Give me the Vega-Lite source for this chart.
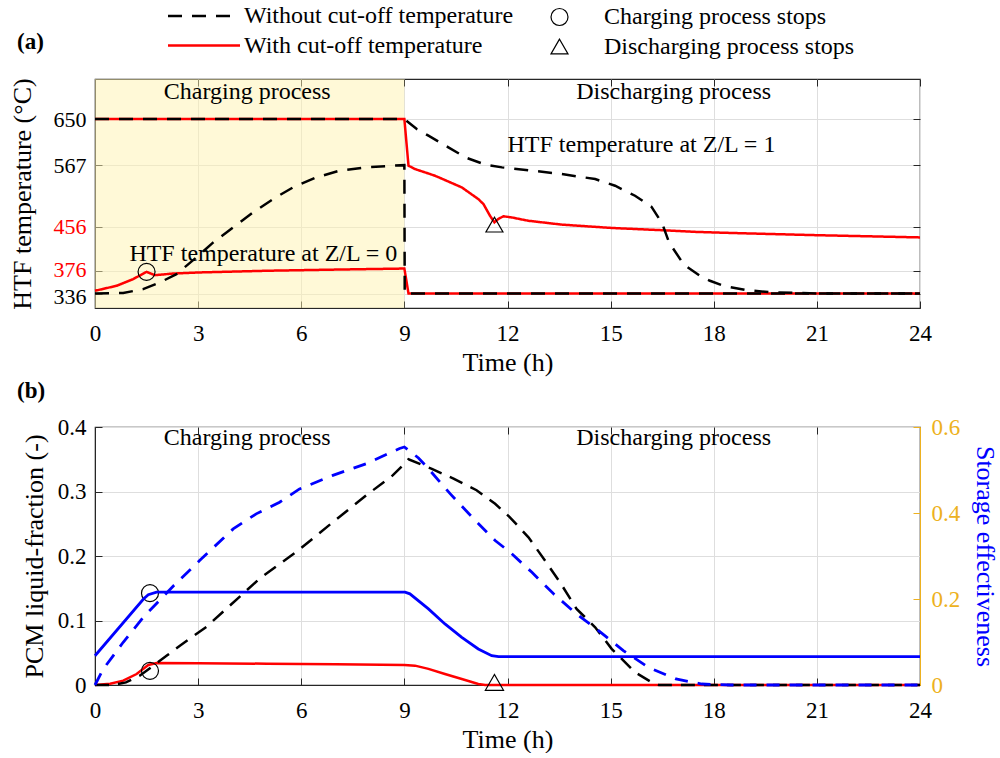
{
  "$schema": "https://vega.github.io/schema/vega-lite/v6.json",
  "padding": {"left": 8, "top": 3, "right": 0, "bottom": 0},
  "background": "white",
  "config": {
    "font": "Liberation Serif",
    "view": {"stroke": "#262626", "strokeWidth": 1.2},
    "axis": {
      "labelFont": "Liberation Serif", "labelFontSize": 23, "labelColor": "black",
      "titleFont": "Liberation Serif", "titleFontSize": 26, "titleFontWeight": "normal", "titleColor": "black",
      "gridColor": "#DEDEDE", "gridWidth": 1, "domainColor": "#262626", "tickColor": "#262626",
      "tickSize": -7, "labelOverlap": false, "labelFlush": false
    },
    "axisX": {"labelPadding": 21},
    "axisY": {"labelPadding": 16},
    "legend": {"labelFont": "Liberation Serif", "labelFontSize": 24, "labelColor": "black", "labelLimit": 0},
    "title": {"font": "Liberation Serif", "fontSize": 23, "fontWeight": "bold", "color": "black"},
    "concat": {"spacing": 3}
  },
  "resolve": {
    "scale": {"x": "independent", "y": "independent", "color": "independent", "strokeDash": "independent", "shape": "independent"},
    "legend": {"color": "independent", "strokeDash": "independent", "shape": "independent"}
  },
  "datasets": {
    "htf": [
      {"t": 0, "T": 650, "line": "w0", "case": "With cut-off temperature"},
      {"t": 9, "T": 650, "line": "w0", "case": "With cut-off temperature"},
      {"t": 9.12, "T": 566, "line": "w0", "case": "With cut-off temperature"},
      {"t": 9.31, "T": 560, "line": "w0", "case": "With cut-off temperature"},
      {"t": 9.89, "T": 548, "line": "w0", "case": "With cut-off temperature"},
      {"t": 10.67, "T": 527, "line": "w0", "case": "With cut-off temperature"},
      {"t": 11.15, "T": 506, "line": "w0", "case": "With cut-off temperature"},
      {"t": 11.3, "T": 497, "line": "w0", "case": "With cut-off temperature"},
      {"t": 11.49, "T": 476, "line": "w0", "case": "With cut-off temperature"},
      {"t": 11.62, "T": 464, "line": "w0", "case": "With cut-off temperature"},
      {"t": 11.73, "T": 470, "line": "w0", "case": "With cut-off temperature"},
      {"t": 11.88, "T": 475, "line": "w0", "case": "With cut-off temperature"},
      {"t": 12.12, "T": 473, "line": "w0", "case": "With cut-off temperature"},
      {"t": 12.6, "T": 467, "line": "w0", "case": "With cut-off temperature"},
      {"t": 13.58, "T": 460, "line": "w0", "case": "With cut-off temperature"},
      {"t": 15.03, "T": 454, "line": "w0", "case": "With cut-off temperature"},
      {"t": 16.48, "T": 450, "line": "w0", "case": "With cut-off temperature"},
      {"t": 17.45, "T": 447, "line": "w0", "case": "With cut-off temperature"},
      {"t": 18.5, "T": 445, "line": "w0", "case": "With cut-off temperature"},
      {"t": 19.73, "T": 443, "line": "w0", "case": "With cut-off temperature"},
      {"t": 21, "T": 441, "line": "w0", "case": "With cut-off temperature"},
      {"t": 22.5, "T": 439, "line": "w0", "case": "With cut-off temperature"},
      {"t": 24, "T": 437, "line": "w0", "case": "With cut-off temperature"},
      {"t": 0, "T": 341, "line": "w1", "case": "With cut-off temperature"},
      {"t": 0.63, "T": 350, "line": "w1", "case": "With cut-off temperature"},
      {"t": 1.11, "T": 362, "line": "w1", "case": "With cut-off temperature"},
      {"t": 1.5, "T": 375, "line": "w1", "case": "With cut-off temperature"},
      {"t": 1.74, "T": 369, "line": "w1", "case": "With cut-off temperature"},
      {"t": 2.27, "T": 372, "line": "w1", "case": "With cut-off temperature"},
      {"t": 3.05, "T": 374, "line": "w1", "case": "With cut-off temperature"},
      {"t": 4.98, "T": 377, "line": "w1", "case": "With cut-off temperature"},
      {"t": 6.92, "T": 379, "line": "w1", "case": "With cut-off temperature"},
      {"t": 9, "T": 381, "line": "w1", "case": "With cut-off temperature"},
      {"t": 9.12, "T": 336, "line": "w1", "case": "With cut-off temperature"},
      {"t": 24, "T": 336, "line": "w1", "case": "With cut-off temperature"},
      {"t": 0, "T": 650, "line": "o0", "case": "Without cut-off temperature"},
      {"t": 9, "T": 650, "line": "o0", "case": "Without cut-off temperature"},
      {"t": 9.36, "T": 632, "line": "o0", "case": "Without cut-off temperature"},
      {"t": 9.7, "T": 620, "line": "o0", "case": "Without cut-off temperature"},
      {"t": 10.28, "T": 599, "line": "o0", "case": "Without cut-off temperature"},
      {"t": 10.81, "T": 580, "line": "o0", "case": "Without cut-off temperature"},
      {"t": 11.35, "T": 568, "line": "o0", "case": "Without cut-off temperature"},
      {"t": 11.84, "T": 563, "line": "o0", "case": "Without cut-off temperature"},
      {"t": 12.6, "T": 558, "line": "o0", "case": "Without cut-off temperature"},
      {"t": 13.58, "T": 551, "line": "o0", "case": "Without cut-off temperature"},
      {"t": 14.55, "T": 542, "line": "o0", "case": "Without cut-off temperature"},
      {"t": 15.13, "T": 530, "line": "o0", "case": "Without cut-off temperature"},
      {"t": 15.71, "T": 512, "line": "o0", "case": "Without cut-off temperature"},
      {"t": 16.19, "T": 492, "line": "o0", "case": "Without cut-off temperature"},
      {"t": 16.5, "T": 462, "line": "o0", "case": "Without cut-off temperature"},
      {"t": 16.7, "T": 428, "line": "o0", "case": "Without cut-off temperature"},
      {"t": 17.13, "T": 388, "line": "o0", "case": "Without cut-off temperature"},
      {"t": 17.6, "T": 368, "line": "o0", "case": "Without cut-off temperature"},
      {"t": 17.89, "T": 359, "line": "o0", "case": "Without cut-off temperature"},
      {"t": 18.28, "T": 350, "line": "o0", "case": "Without cut-off temperature"},
      {"t": 18.96, "T": 342, "line": "o0", "case": "Without cut-off temperature"},
      {"t": 19.73, "T": 338, "line": "o0", "case": "Without cut-off temperature"},
      {"t": 21.19, "T": 336, "line": "o0", "case": "Without cut-off temperature"},
      {"t": 24, "T": 336, "line": "o0", "case": "Without cut-off temperature"},
      {"t": 0, "T": 336, "line": "o1", "case": "Without cut-off temperature"},
      {"t": 0.82, "T": 337, "line": "o1", "case": "Without cut-off temperature"},
      {"t": 1.4, "T": 344, "line": "o1", "case": "Without cut-off temperature"},
      {"t": 1.89, "T": 356, "line": "o1", "case": "Without cut-off temperature"},
      {"t": 2.37, "T": 371, "line": "o1", "case": "Without cut-off temperature"},
      {"t": 2.95, "T": 401, "line": "o1", "case": "Without cut-off temperature"},
      {"t": 3.44, "T": 428, "line": "o1", "case": "Without cut-off temperature"},
      {"t": 4.02, "T": 455, "line": "o1", "case": "Without cut-off temperature"},
      {"t": 4.6, "T": 482, "line": "o1", "case": "Without cut-off temperature"},
      {"t": 5.18, "T": 506, "line": "o1", "case": "Without cut-off temperature"},
      {"t": 5.76, "T": 527, "line": "o1", "case": "Without cut-off temperature"},
      {"t": 6.44, "T": 545, "line": "o1", "case": "Without cut-off temperature"},
      {"t": 7.11, "T": 557, "line": "o1", "case": "Without cut-off temperature"},
      {"t": 7.89, "T": 563, "line": "o1", "case": "Without cut-off temperature"},
      {"t": 8.66, "T": 566, "line": "o1", "case": "Without cut-off temperature"},
      {"t": 9, "T": 567, "line": "o1", "case": "Without cut-off temperature"},
      {"t": 9.01, "T": 336, "line": "o1", "case": "Without cut-off temperature"},
      {"t": 24, "T": 336, "line": "o1", "case": "Without cut-off temperature"}
    ],
    "pcm": [
      {"t": 0, "v": 0, "line": "lf_o"}, {"t": 0.5, "v": 0, "line": "lf_o"}, {"t": 0.9, "v": 0.004, "line": "lf_o"},
      {"t": 1.3, "v": 0.0145, "line": "lf_o"}, {"t": 1.7, "v": 0.03, "line": "lf_o"}, {"t": 2.1, "v": 0.046, "line": "lf_o"},
      {"t": 2.47, "v": 0.061, "line": "lf_o"}, {"t": 3.24, "v": 0.09, "line": "lf_o"}, {"t": 3.92, "v": 0.123, "line": "lf_o"},
      {"t": 4.79, "v": 0.165, "line": "lf_o"}, {"t": 5.85, "v": 0.206, "line": "lf_o"}, {"t": 6.92, "v": 0.2525, "line": "lf_o"},
      {"t": 7.89, "v": 0.294, "line": "lf_o"}, {"t": 8.66, "v": 0.325, "line": "lf_o"}, {"t": 9, "v": 0.343, "line": "lf_o"},
      {"t": 9.12, "v": 0.35, "line": "lf_o"}, {"t": 9.8, "v": 0.335, "line": "lf_o"}, {"t": 10.43, "v": 0.32, "line": "lf_o"},
      {"t": 11.1, "v": 0.302, "line": "lf_o"}, {"t": 11.64, "v": 0.281, "line": "lf_o"}, {"t": 12.07, "v": 0.26, "line": "lf_o"},
      {"t": 12.61, "v": 0.229, "line": "lf_o"}, {"t": 13.09, "v": 0.193, "line": "lf_o"}, {"t": 13.53, "v": 0.159, "line": "lf_o"},
      {"t": 14.01, "v": 0.118, "line": "lf_o"}, {"t": 14.55, "v": 0.0895, "line": "lf_o"}, {"t": 15.03, "v": 0.056, "line": "lf_o"},
      {"t": 15.71, "v": 0.0197, "line": "lf_o"}, {"t": 16.2, "v": 0.004, "line": "lf_o"}, {"t": 16.4, "v": 0, "line": "lf_o"},
      {"t": 24, "v": 0, "line": "lf_o"},
      {"t": 0, "v": 0, "line": "lf_w"}, {"t": 0.44, "v": 0.002, "line": "lf_w"}, {"t": 0.82, "v": 0.0067, "line": "lf_w"},
      {"t": 1.21, "v": 0.017, "line": "lf_w"}, {"t": 1.55, "v": 0.031, "line": "lf_w"}, {"t": 1.79, "v": 0.034, "line": "lf_w"},
      {"t": 3, "v": 0.0338, "line": "lf_w"}, {"t": 5, "v": 0.033, "line": "lf_w"}, {"t": 7, "v": 0.0322, "line": "lf_w"},
      {"t": 9, "v": 0.031, "line": "lf_w"}, {"t": 9.31, "v": 0.03, "line": "lf_w"}, {"t": 9.7, "v": 0.025, "line": "lf_w"},
      {"t": 10.18, "v": 0.017, "line": "lf_w"}, {"t": 10.67, "v": 0.0093, "line": "lf_w"}, {"t": 11.15, "v": 0.0016, "line": "lf_w"},
      {"t": 11.35, "v": 0, "line": "lf_w"}, {"t": 24, "v": 0, "line": "lf_w"}
    ],
    "eff": [
      {"t": 0, "v": 0, "line": "se_o"}, {"t": 0.24, "v": 0.037, "line": "se_o"}, {"t": 0.82, "v": 0.0994, "line": "se_o"},
      {"t": 1.41, "v": 0.158, "line": "se_o"}, {"t": 2.3, "v": 0.232, "line": "se_o"}, {"t": 3.05, "v": 0.29, "line": "se_o"},
      {"t": 4.02, "v": 0.363, "line": "se_o"}, {"t": 4.69, "v": 0.398, "line": "se_o"}, {"t": 5.37, "v": 0.425, "line": "se_o"},
      {"t": 5.95, "v": 0.456, "line": "se_o"}, {"t": 6.92, "v": 0.4875, "line": "se_o"}, {"t": 7.89, "v": 0.5146, "line": "se_o"},
      {"t": 8.86, "v": 0.55, "line": "se_o"}, {"t": 9, "v": 0.5536, "line": "se_o"}, {"t": 9.41, "v": 0.528, "line": "se_o"},
      {"t": 9.7, "v": 0.503, "line": "se_o"}, {"t": 10.33, "v": 0.445, "line": "se_o"}, {"t": 11.01, "v": 0.387, "line": "se_o"},
      {"t": 11.64, "v": 0.336, "line": "se_o"}, {"t": 12.07, "v": 0.309, "line": "se_o"}, {"t": 12.71, "v": 0.262, "line": "se_o"},
      {"t": 13.34, "v": 0.212, "line": "se_o"}, {"t": 14.01, "v": 0.165, "line": "se_o"}, {"t": 14.64, "v": 0.127, "line": "se_o"},
      {"t": 15.37, "v": 0.08, "line": "se_o"}, {"t": 16.1, "v": 0.041, "line": "se_o"}, {"t": 16.9, "v": 0.014, "line": "se_o"},
      {"t": 17.65, "v": 0.0023, "line": "se_o"}, {"t": 18.5, "v": 0, "line": "se_o"}, {"t": 24, "v": 0, "line": "se_o"},
      {"t": 0, "v": 0.068, "line": "se_w"}, {"t": 1.41, "v": 0.2, "line": "se_w"}, {"t": 1.55, "v": 0.21, "line": "se_w"},
      {"t": 1.79, "v": 0.216, "line": "se_w"}, {"t": 9.02, "v": 0.216, "line": "se_w"}, {"t": 9.16, "v": 0.212, "line": "se_w"},
      {"t": 9.7, "v": 0.177, "line": "se_w"}, {"t": 10.18, "v": 0.142, "line": "se_w"}, {"t": 10.67, "v": 0.111, "line": "se_w"},
      {"t": 11.15, "v": 0.0839, "line": "se_w"}, {"t": 11.54, "v": 0.0683, "line": "se_w"}, {"t": 11.74, "v": 0.066, "line": "se_w"},
      {"t": 24, "v": 0.066, "line": "se_w"}
    ]
  },
  "vconcat": [
    {
      "width": 825,
      "height": 229,
      "title": {"text": "(a)", "anchor": "start", "frame": "group", "dx": -78, "dy": 50, "offset": 0},
      "resolve": {"axis": {"x": "independent", "y": "independent"}},
      "layer": [
        {
          "layer": [
            {
              "data": {"values": [{"start": 0, "end": 9}]},
              "mark": {"type": "rect", "fill": "#FFF3B0", "opacity": 0.5},
              "encoding": {
                "x": {"field": "start", "type": "quantitative", "scale": {"domain": [0, 24], "nice": false, "zero": false},
                      "axis": {"values": [0, 3, 6, 9, 12, 15, 18, 21, 24], "title": "Time (h)", "grid": true}},
                "x2": {"field": "end"}
              }
            },
            {
              "data": {"name": "htf"},
              "transform": [{"filter": "datum.case == 'With cut-off temperature'"}],
              "mark": {"type": "line", "strokeWidth": 2.5},
              "encoding": {
                "x": {"field": "t", "type": "quantitative"},
                "y": {"field": "T", "type": "quantitative", "scale": {"domain": [310, 722], "nice": false, "zero": false},
                      "axis": {"values": [336, 376, 456, 567, 650], "title": "HTF temperature (°C)", "grid": true, "titlePadding": 18, "labelFontSize": 22,
                               "labelOffset": {"condition": [{"test": "datum.value == 376", "value": -1.5}, {"test": "datum.value == 336", "value": 2.5}], "value": 0},
                               "labelColor": {"condition": {"test": "datum.value == 456 || datum.value == 376", "value": "#FF0000"}, "value": "black"}}},
                "detail": {"field": "line"},
                "color": {"field": "case", "type": "nominal",
                          "scale": {"domain": ["Without cut-off temperature", "With cut-off temperature"], "range": ["#000000", "#FF0000"]},
                          "legend": {"orient": "none", "legendX": 97, "legendY": -75, "title": null, "symbolType": "M-4,0H4", "symbolSize": 324, "symbolStrokeWidth": 2.5, "labelOffset": 28, "rowPadding": 5.5}},
                "strokeDash": {"field": "case", "type": "nominal",
                          "scale": {"domain": ["Without cut-off temperature", "With cut-off temperature"], "range": [[14, 10], [1, 0]]},
                          "legend": {"orient": "none", "legendX": 97, "legendY": -75, "title": null, "symbolType": "M-4,0H4", "symbolSize": 324, "symbolStrokeWidth": 2.5, "labelOffset": 28, "rowPadding": 5.5}}
              }
            },
            {
              "data": {"name": "htf"},
              "transform": [{"filter": "datum.case == 'Without cut-off temperature'"}],
              "mark": {"type": "line", "strokeWidth": 2.5},
              "encoding": {
                "x": {"field": "t", "type": "quantitative"},
                "y": {"field": "T", "type": "quantitative"},
                "detail": {"field": "line"},
                "color": {"field": "case", "type": "nominal"},
                "strokeDash": {"field": "case", "type": "nominal"}
              }
            },
            {
              "data": {"values": [
                {"t": 1.5, "T": 375, "marker": "Charging process stops"},
                {"t": 11.62, "T": 460, "marker": "Discharging process stops"}
              ]},
              "mark": {"type": "point", "filled": false, "color": "black", "strokeWidth": 1.2, "size": 289, "opacity": 1},
              "encoding": {
                "x": {"field": "t", "type": "quantitative"},
                "y": {"field": "T", "type": "quantitative"},
                "shape": {"field": "marker", "type": "nominal",
                          "scale": {"domain": ["Charging process stops", "Discharging process stops"], "range": ["circle", "triangle-up"]},
                          "legend": {"orient": "none", "legendX": 452.5, "legendY": -74, "title": null, "symbolSize": 289, "symbolStrokeColor": "black", "symbolFillColor": "transparent", "symbolStrokeWidth": 1.2, "labelOffset": 32.5, "rowPadding": 5.5}}
              }
            }
          ]
        },
        {
          "data": {"values": [
            {"t": 2, "T": 686, "label": "Charging process"},
            {"t": 14, "T": 686, "label": "Discharging process"},
            {"t": 1, "T": 395, "label": "HTF temperature at Z/L = 0"},
            {"t": 12, "T": 590, "label": "HTF temperature at Z/L = 1"}
          ]},
          "mark": {"type": "text", "align": "left", "baseline": "alphabetic", "fontSize": 24, "font": "Liberation Serif", "color": "black"},
          "encoding": {
            "x": {"field": "t", "type": "quantitative",
                  "axis": {"orient": "top", "values": [0, 3, 6, 9, 12, 15, 18, 21, 24], "labels": false, "title": null, "grid": false, "domain": false}},
            "y": {"field": "T", "type": "quantitative",
                  "axis": {"orient": "right", "values": [336, 376, 456, 567, 650], "labels": false, "title": null, "grid": false, "domain": false}},
            "text": {"field": "label"}
          }
        }
      ]
    },
    {
      "width": 825,
      "height": 258,
      "title": {"text": "(b)", "anchor": "start", "frame": "group", "dx": -78, "offset": 13},
      "resolve": {"scale": {"y": "independent"}, "axis": {"x": "independent"}},
      "layer": [
        {
          "layer": [
            {
              "data": {"name": "pcm"},
              "transform": [{"filter": "datum.line == 'lf_w'"}],
              "mark": {"type": "line", "color": "#FF0000", "strokeWidth": 2.5},
              "encoding": {
                "x": {"field": "t", "type": "quantitative", "scale": {"domain": [0, 24], "nice": false, "zero": false},
                      "axis": {"values": [0, 3, 6, 9, 12, 15, 18, 21, 24], "title": "Time (h)", "grid": true}},
                "y": {"field": "v", "type": "quantitative", "scale": {"domain": [0, 0.4], "nice": false},
                      "axis": {"values": [0, 0.1, 0.2, 0.3, 0.4], "format": ".1~f", "title": "PCM liquid-fraction (-)", "grid": true, "titlePadding": 10}}
              }
            },
            {
              "data": {"name": "pcm"},
              "transform": [{"filter": "datum.line == 'lf_o'"}],
              "mark": {"type": "line", "color": "#000000", "strokeWidth": 2.5, "strokeDash": [14, 9]},
              "encoding": {
                "x": {"field": "t", "type": "quantitative"},
                "y": {"field": "v", "type": "quantitative"}
              }
            },
            {
              "data": {"values": [{"t": 1.6, "v": 0.1424}, {"t": 1.6, "v": 0.022}]},
              "mark": {"type": "point", "shape": "circle", "filled": false, "color": "black", "strokeWidth": 1.2, "size": 289, "opacity": 1},
              "encoding": {
                "x": {"field": "t", "type": "quantitative"},
                "y": {"field": "v", "type": "quantitative"}
              }
            },
            {
              "data": {"values": [{"t": 11.62, "v": 0.004}]},
              "mark": {"type": "point", "shape": "triangle-up", "filled": false, "color": "black", "strokeWidth": 1.2, "size": 330, "opacity": 1},
              "encoding": {
                "x": {"field": "t", "type": "quantitative"},
                "y": {"field": "v", "type": "quantitative"}
              }
            },
            {
              "data": {"values": [
                {"t": 2, "v": 0.372, "label": "Charging process"},
                {"t": 14, "v": 0.372, "label": "Discharging process"}
              ]},
              "mark": {"type": "text", "align": "left", "baseline": "alphabetic", "fontSize": 24, "font": "Liberation Serif", "color": "black"},
              "encoding": {
                "x": {"field": "t", "type": "quantitative"},
                "y": {"field": "v", "type": "quantitative"},
                "text": {"field": "label"}
              }
            }
          ]
        },
        {
          "layer": [
            {
              "data": {"name": "eff"},
              "transform": [{"filter": "datum.line == 'se_w'"}],
              "mark": {"type": "line", "color": "#0000FF", "strokeWidth": 2.8},
              "encoding": {
                "x": {"field": "t", "type": "quantitative",
                      "axis": {"orient": "top", "values": [0, 3, 6, 9, 12, 15, 18, 21, 24], "labels": false, "title": null, "grid": false, "domain": false}},
                "y": {"field": "v", "type": "quantitative", "scale": {"domain": [0, 0.6], "nice": false},
                      "axis": {"orient": "right", "values": [0, 0.2, 0.4, 0.6], "format": ".1~f", "title": "Storage effectiveness", "titleColor": "#0000FF",
                               "labelColor": "#EDB120", "domainColor": "#EDB120", "tickColor": "#EDB120", "grid": false, "labelPadding": 18, "titlePadding": 12}}
              }
            },
            {
              "data": {"name": "eff"},
              "transform": [{"filter": "datum.line == 'se_o'"}],
              "mark": {"type": "line", "color": "#0000FF", "strokeWidth": 2.8, "strokeDash": [13, 10]},
              "encoding": {
                "x": {"field": "t", "type": "quantitative"},
                "y": {"field": "v", "type": "quantitative"}
              }
            }
          ]
        }
      ]
    }
  ]
}
